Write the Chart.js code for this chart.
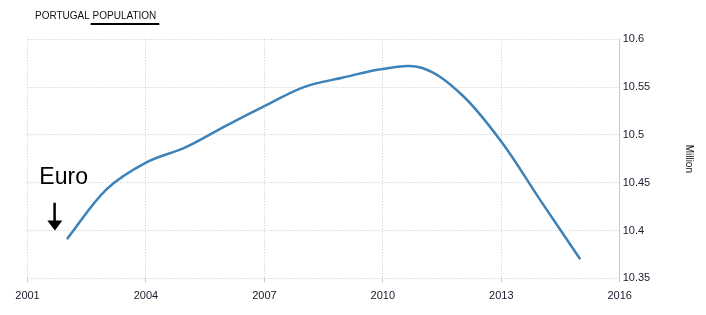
<!DOCTYPE html>
<html>
<head>
<meta charset="utf-8">
<script src="https://cdn.jsdelivr.net/npm/chart.js@4.4.1/dist/chart.umd.min.js"></script>
<style>
  html, body { margin: 0; padding: 0; background: #fff; }
  #wrap { position: relative; width: 706px; height: 315px; }
  canvas { display: block; }
</style>
</head>
<body>
<div id="wrap"><canvas id="c" width="706" height="315"></canvas></div>
<script>
const chartTitleLead = "PORTUGAL ";
const chartTitleMain = "POPULATION";
const years = [2002, 2003, 2004, 2005, 2006, 2007, 2008, 2009, 2010, 2011, 2012, 2013, 2014, 2015];
const population = [10.391, 10.443, 10.471, 10.487, 10.509, 10.530, 10.550, 10.560, 10.569, 10.570, 10.542, 10.493, 10.431, 10.370];
const yAxisTitle = "Million";
const annotationText = "Euro";
const annotationYear = 2001.68;
const annotationValues = [10.429, 10.4];

const overlay = {
  id: 'overlay',
  afterDraw(chart) {
    const ctx = chart.ctx;
    const xs = chart.scales.x, ys = chart.scales.y;
    ctx.save();
    ctx.font = '10px "Liberation Sans", Arial, sans-serif';
    ctx.fillStyle = '#111';
    ctx.textBaseline = 'alphabetic';
    ctx.textAlign = 'left';
    const tx = 35, ty = 19;
    ctx.fillText(chartTitleLead, tx, ty);
    const w1 = ctx.measureText(chartTitleLead).width;
    ctx.fillText(chartTitleMain, tx + w1, ty);
    const w2 = ctx.measureText(chartTitleMain).width;
    ctx.fillStyle = '#000';
    ctx.fillRect(tx + w1 - 2, 23, w2 + 5, 2);
    const ax = xs.getPixelForValue(annotationYear);
    const yTop = ys.getPixelForValue(annotationValues[0]);
    const yBot = ys.getPixelForValue(annotationValues[1]);
    ctx.font = '23px "Liberation Sans", Arial, sans-serif';
    ctx.fillStyle = '#000';
    ctx.fillText(annotationText, ax - 15, yTop - 19);
    ctx.fillRect(ax - 1, yTop, 2.5, (yBot - yTop) - 9);
    ctx.beginPath();
    ctx.moveTo(ax - 7, yBot - 10);
    ctx.lineTo(ax + 8, yBot - 10);
    ctx.lineTo(ax + 0.5, yBot);
    ctx.closePath();
    ctx.fill();
    ctx.restore();
  }
};

const gridCol = '#c8c8c8';
new Chart(document.getElementById('c'), {
  type: 'line',
  data: {
    datasets: [{
      data: years.map((y, i) => ({ x: y, y: population[i] })),
      borderColor: '#3d82b8',
      borderWidth: 2.5,
      pointRadius: 0,
      tension: 0.35,
      fill: false
    }]
  },
  options: {
    responsive: false,
    animation: false,
    events: [],
    layout: { padding: { left: 27.5, top: 39.3, right: 0, bottom: 0 } },
    plugins: { legend: { display: false }, tooltip: { enabled: false } },
    scales: {
      x: {
        type: 'linear',
        min: 2001, max: 2016,
        afterBuildTicks(s) { s.ticks = [2001, 2004, 2007, 2010, 2013, 2016].map(v => ({ value: v })); },
        afterFit(s) { s.height = 36.7; },
        grid: { color: gridCol, drawTicks: true, tickLength: 4 },
        border: { display: false, color: gridCol, dash: [1, 2] },
        ticks: {
          color: '#1a1a2a',
          font: { family: '"Liberation Sans", Arial, sans-serif', size: 11 },
          padding: 7,
          maxRotation: 0,
          callback: v => String(v)
        }
      },
      y: {
        position: 'right',
        min: 10.35, max: 10.6,
        afterBuildTicks(s) { s.ticks = [10.35, 10.4, 10.45, 10.5, 10.55, 10.6].map(v => ({ value: v })); },
        afterFit(s) { s.width = 86.3; },
        grid: { color: gridCol, drawTicks: false },
        border: { display: true, color: gridCol, dash: [1, 2] },
        ticks: {
          color: '#1a1a2a',
          font: { family: '"Liberation Sans", Arial, sans-serif', size: 11 },
          padding: 3,
          callback: v => String(Math.round(v * 100) / 100)
        },
        title: {
          display: true,
          text: yAxisTitle,
          color: '#111',
          font: { family: '"Liberation Sans", Arial, sans-serif', size: 10 },
          padding: { top: 11, bottom: 4 }
        }
      }
    }
  },
  plugins: [overlay]
});
</script>
</body>
</html>
